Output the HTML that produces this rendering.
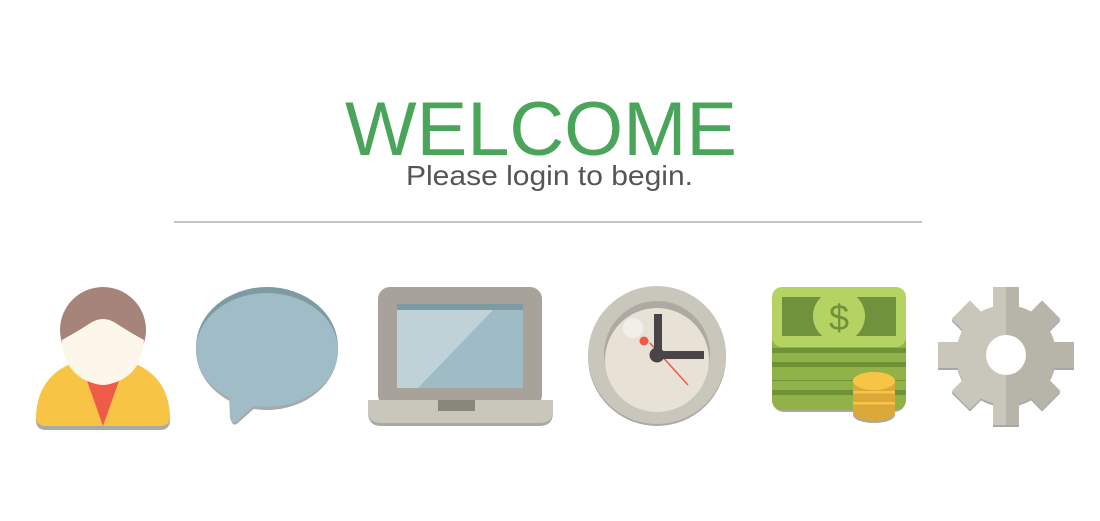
<!DOCTYPE html>
<html><head><style>html,body{margin:0;padding:0;background:#fff;width:1100px;height:521px;overflow:hidden}</style></head>
<body>
<svg width="1100" height="521" viewBox="0 0 1100 521" xmlns="http://www.w3.org/2000/svg">
<defs>
<clipPath id="rh"><rect x="1006" y="280" width="80" height="150"/></clipPath>
<g id="gear">
<circle cx="1006" cy="355" r="50"/>
<rect x="993" y="287" width="26" height="138"/>
<rect x="938" y="342" width="136" height="26"/>
<rect x="993" y="291" width="26" height="128" transform="rotate(45 1006 355)"/>
<rect x="993" y="291" width="26" height="128" transform="rotate(-45 1006 355)"/>
</g>
</defs>
<text x="345" y="155" font-family="Liberation Sans, sans-serif" font-size="76" fill="#4aa55a" textLength="392" lengthAdjust="spacingAndGlyphs">WELCOME</text>
<text x="406" y="185" font-family="Liberation Sans, sans-serif" font-size="28" fill="#555" textLength="287" lengthAdjust="spacingAndGlyphs">Please login to begin.</text>
<line x1="174" y1="222" x2="922" y2="222" stroke="#8a8a8a" stroke-width="1"/>

<!-- person -->
<path d="M36,418 Q38,370 90,360 L116,360 Q168,370 170,418 Q170,428 160,428 L46,428 Q36,428 36,418Z" fill="#a9a9a9" transform="translate(0,2)"/>
<path d="M36,416 Q38,368 90,358 L116,358 Q168,368 170,416 Q170,426 160,426 L46,426 Q36,426 36,416Z" fill="#f8c445"/>
<polygon points="86,378 120,378 103,426" fill="#ee5b47"/>
<circle cx="103" cy="330" r="43" fill="#a68479"/>
<path d="M62,340 Q80,330 92,322 Q103,316 114,322 Q126,330 144,340 Q142,376 110,384 Q103,386 96,384 Q64,376 62,340Z" fill="#fdf6ea"/>

<!-- bubble -->
<ellipse cx="267" cy="350" rx="71" ry="60" fill="#a8a8a8"/>
<path d="M229,395 L230,418 Q232,426 238,420 L256,404Z" fill="#a8a8a8" transform="translate(1,2)"/>
<ellipse cx="267" cy="347" rx="71" ry="60" fill="#7d9ba3"/>
<ellipse cx="267" cy="350" rx="71" ry="57" fill="#a0bcc6"/>
<path d="M229,395 L230,418 Q232,426 238,420 L256,404Z" fill="#a0bcc6"/>

<!-- laptop -->
<rect x="378" y="287" width="164" height="120" rx="12" fill="#a7a39a"/>
<rect x="397" y="304" width="126" height="84" fill="#9fbcc6"/>
<rect x="397" y="304" width="126" height="6" fill="#7d9ba3"/>
<polygon points="397,310 493,310 418,388 397,388" fill="#bed2d7"/>
<path d="M368,402 L553,402 L553,412 Q553,426 540,426 L381,426 Q368,426 368,412Z" fill="#a8a8a8"/>
<path d="M368,400 L553,400 L553,410 Q553,423 540,423 L381,423 Q368,423 368,410Z" fill="#c9c7bb"/>
<rect x="438" y="400" width="37" height="11" fill="#88857d"/>

<!-- clock -->
<circle cx="657" cy="357" r="69" fill="#acaaa3"/>
<circle cx="657" cy="355" r="69" fill="#c9c7bb"/>
<circle cx="657" cy="354" r="53" fill="#acaaa3"/>
<circle cx="657" cy="360" r="52" fill="#e7e1d6"/>
<circle cx="633" cy="328" r="10" fill="#f2efe9"/>
<line x1="650" y1="343" x2="688" y2="385" stroke="#ee5b47" stroke-width="1.5"/>
<circle cx="644" cy="341" r="4.5" fill="#ee5b47"/>
<rect x="654" y="314" width="8" height="42" fill="#4a4449"/>
<rect x="656" y="351" width="48" height="8" fill="#4a4449"/>
<circle cx="657" cy="355" r="7.5" fill="#4a4449"/>

<!-- money -->
<rect x="772" y="292" width="134" height="120" rx="12" fill="#a8a8a8"/>
<rect x="772" y="368" width="134" height="42" rx="10" fill="#90b246"/>
<rect x="772" y="376" width="134" height="5" fill="#6f9236"/>
<rect x="772" y="390" width="134" height="5" fill="#6f9236"/>
<rect x="772" y="340" width="134" height="40" fill="#90b246"/>
<rect x="772" y="348" width="134" height="5" fill="#6f9236"/>
<rect x="772" y="362" width="134" height="5" fill="#6f9236"/>
<rect x="772" y="287" width="134" height="60" rx="10" fill="#b5d362"/>
<rect x="782" y="297" width="114" height="39" fill="#71923c"/>
<circle cx="839" cy="316" r="26" fill="#b5d362"/>
<text x="839" y="330" text-anchor="middle" font-family="Liberation Sans, sans-serif" font-size="36" fill="#71923c">$</text>
<ellipse cx="874" cy="415" rx="21" ry="8" fill="#a8a8a8"/>
<rect x="853" y="380" width="42" height="33" fill="#dba83a"/>
<ellipse cx="874" cy="413" rx="21" ry="8" fill="#dba83a"/>
<rect x="853" y="391" width="42" height="2.5" fill="#f8c445"/>
<rect x="853" y="402" width="42" height="2.5" fill="#f8c445"/>
<ellipse cx="874" cy="381" rx="21" ry="9" fill="#f8c445"/>

<!-- gear -->
<use href="#gear" fill="#a8a8a8" transform="translate(0,2)"/>
<use href="#gear" fill="#c9c7bb"/>
<g clip-path="url(#rh)"><use href="#gear" fill="#b7b5aa"/></g>
<circle cx="1006" cy="355" r="20" fill="#fff"/>
</svg>
</body></html>
